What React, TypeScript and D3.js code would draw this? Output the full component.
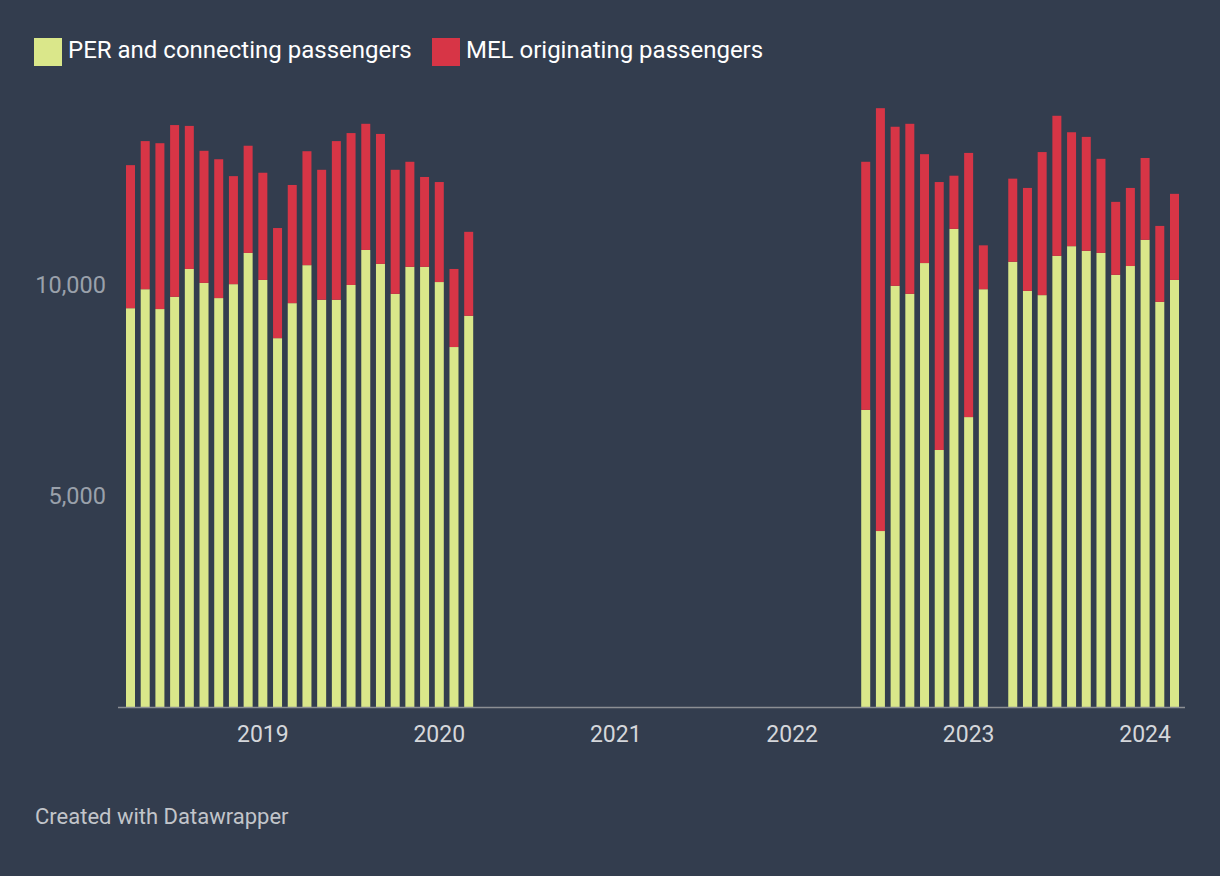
import { useEffect } from "react";
import * as d3 from "d3";

// monthly categories, Apr 2018 – Mar 2024
const months: Date[] = d3.utcMonth.range(new Date(Date.UTC(2018, 3, 1)), new Date(Date.UTC(2024, 3, 1)));

// PER and connecting passengers (null = no flights)
const perValues: (number | null)[] = [
  9450, 9900, 9430, 9720, 10380, 10050, 9690, 10020, 10760, 10120, 8740, 9570,
  10470, 9650, 9650, 10000, 10830, 10500, 9790, 10430, 10430, 10070, 8530, 9270,
  null, null, null, null, null, null, null, null, null, null, null, null,
  null, null, null, null, null, null, null, null, null, null, null, null,
  null, null, 7040, 4170, 9980, 9790, 10520, 6090, 11330, 6870, 9900, null,
  10550, 9860, 9760, 10690, 10920, 10810, 10760, 10240, 10450, 11070, 9600, 10120,
];

// MEL originating passengers
const melValues: (number | null)[] = [
  3390, 3510, 3930, 4070, 3390, 3130, 3290, 2560, 2540, 2540, 2610, 2800,
  2700, 3080, 3760, 3600, 2990, 3080, 2940, 2490, 2130, 2370, 1850, 1990,
  null, null, null, null, null, null, null, null, null, null, null, null,
  null, null, null, null, null, null, null, null, null, null, null, null,
  null, null, 5880, 10020, 3770, 4030, 2580, 6350, 1260, 6260, 1040, null,
  1970, 2440, 3390, 3320, 2700, 2700, 2230, 1730, 1850, 1940, 1800, 2040,
];

const seriesNames = ["PER and connecting passengers", "MEL originating passengers"];
const yTicks = [5000, 10000];
const yearLabels = ["2019", "2020", "2021", "2022", "2023", "2024"];

const W = 1220;
const H = 876;
const BG = "#333d4e";
const YELLOW = "#dae78a";
const RED = "#d73546";
const FONT = "Roboto, sans-serif";

export default function App() {
  useEffect(() => {
    document.body.style.margin = "0";
    document.body.style.background = BG;
  }, []);

  const keys = months.map((m) => d3.utcFormat("%Y-%m")(m));
  const x = d3.scaleBand<string>().domain(keys).range([126, 1179]).paddingInner(0.388).paddingOuter(0);
  const y = d3.scaleLinear().domain([0, 15000]).range([707, 74]);

  const bars = months.map((m, i) => ({
    key: keys[i],
    per: perValues[i],
    mel: melValues[i],
  }));

  const fmt = d3.format(",");

  return (
    <svg width={W} height={H} style={{ display: "block", background: BG }} fontFamily={FONT}>
      <rect width={W} height={H} fill={BG} />

      {/* legend */}
      <g>
        <rect x={34} y={38} width={28} height={28} fill={YELLOW} />
        <text x={68} y={58} fontSize={24} fill="#ffffff">{seriesNames[0]}</text>
        <rect x={432} y={38} width={28} height={28} fill={RED} />
        <text x={466} y={58} fontSize={24} fill="#ffffff">{seriesNames[1]}</text>
      </g>

      {/* y labels */}
      {yTicks.map((t) => (
        <text key={t} x={106} y={y(t)} dy="0.35em" textAnchor="end" fontSize={23.5} fill="#9aa1ab">
          {fmt(t)}
        </text>
      ))}

      {/* bars */}
      {bars.map((b) =>
        b.per == null ? null : (
          <g key={b.key}>
            <rect x={x(b.key)} y={y(b.per)} width={x.bandwidth()} height={y(0) - y(b.per)} fill={YELLOW} />
            <rect
              x={x(b.key)}
              y={y(b.per + (b.mel ?? 0))}
              width={x.bandwidth()}
              height={y(b.per) - y(b.per + (b.mel ?? 0))}
              fill={RED}
            />
          </g>
        )
      )}

      {/* baseline */}
      <line x1={118} x2={1185} y1={y(0) + 0.5} y2={y(0) + 0.5} stroke="#8c8f94" strokeWidth={1.5} />

      {/* year labels at January */}
      {yearLabels.map((yr) => {
        const k = `${yr}-01`;
        const cx = (x(k) ?? 0) + x.bandwidth() / 2;
        return (
          <text key={yr} x={cx} y={742} textAnchor="middle" fontSize={23} fill="#d5d7db">
            {yr}
          </text>
        );
      })}

      <text x={35} y={824} fontSize={22} fill="#c2c5ca">Created with Datawrapper</text>
    </svg>
  );
}
